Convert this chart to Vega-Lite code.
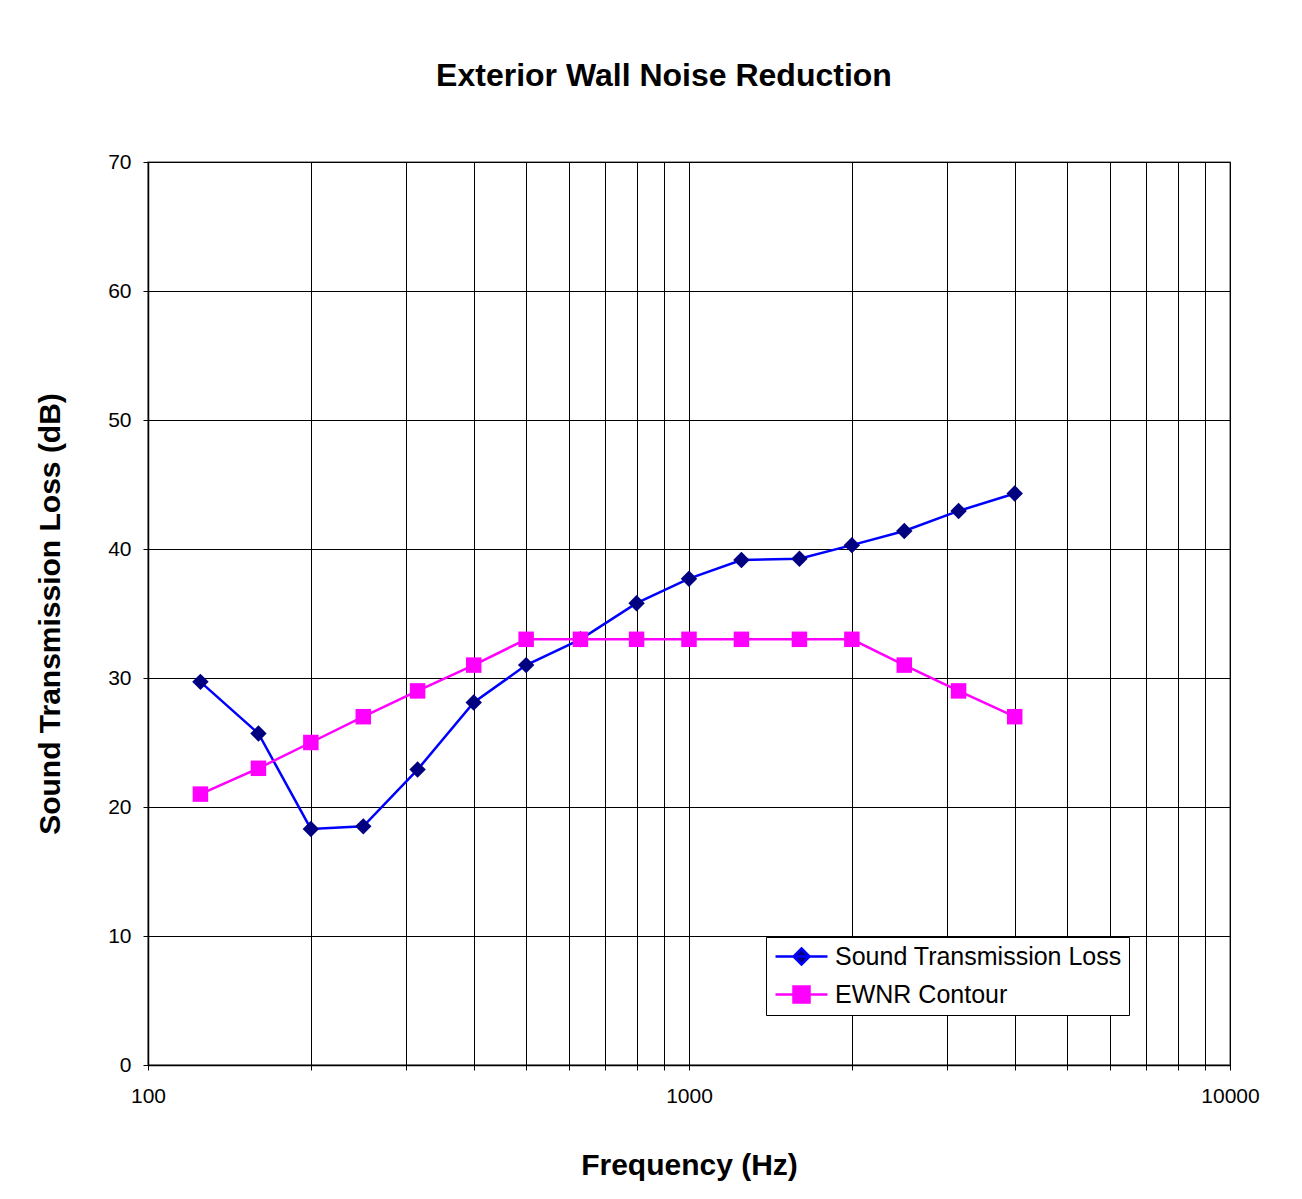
{
  "$schema": "https://vega.github.io/schema/vega-lite/v6.json",
  "width": 1082,
  "height": 903,
  "autosize": {"type": "none"},
  "padding": {"left": 148, "top": 162, "right": 72, "bottom": 134},
  "background": "white",
  "title": {
    "text": "Exterior Wall Noise Reduction",
    "fontSize": 32,
    "font": "Liberation Sans",
    "fontWeight": "bold",
    "anchor": "middle",
    "dx": -25,
    "offset": 58,
    "color": "black"
  },
  "data": {
    "values": [
      {"freq": 125, "value": 29.7, "series": "Sound Transmission Loss"},
      {"freq": 160, "value": 25.7, "series": "Sound Transmission Loss"},
      {"freq": 200, "value": 18.3, "series": "Sound Transmission Loss"},
      {"freq": 250, "value": 18.5, "series": "Sound Transmission Loss"},
      {"freq": 315, "value": 22.9, "series": "Sound Transmission Loss"},
      {"freq": 400, "value": 28.1, "series": "Sound Transmission Loss"},
      {"freq": 500, "value": 31.0, "series": "Sound Transmission Loss"},
      {"freq": 630, "value": 33.0, "series": "Sound Transmission Loss"},
      {"freq": 800, "value": 35.8, "series": "Sound Transmission Loss"},
      {"freq": 1000, "value": 37.7, "series": "Sound Transmission Loss"},
      {"freq": 1250, "value": 39.15, "series": "Sound Transmission Loss"},
      {"freq": 1600, "value": 39.25, "series": "Sound Transmission Loss"},
      {"freq": 2000, "value": 40.3, "series": "Sound Transmission Loss"},
      {"freq": 2500, "value": 41.4, "series": "Sound Transmission Loss"},
      {"freq": 3150, "value": 42.95, "series": "Sound Transmission Loss"},
      {"freq": 4000, "value": 44.3, "series": "Sound Transmission Loss"},
      {"freq": 125, "value": 21, "series": "EWNR Contour"},
      {"freq": 160, "value": 23, "series": "EWNR Contour"},
      {"freq": 200, "value": 25, "series": "EWNR Contour"},
      {"freq": 250, "value": 27, "series": "EWNR Contour"},
      {"freq": 315, "value": 29, "series": "EWNR Contour"},
      {"freq": 400, "value": 31, "series": "EWNR Contour"},
      {"freq": 500, "value": 33, "series": "EWNR Contour"},
      {"freq": 630, "value": 33, "series": "EWNR Contour"},
      {"freq": 800, "value": 33, "series": "EWNR Contour"},
      {"freq": 1000, "value": 33, "series": "EWNR Contour"},
      {"freq": 1250, "value": 33, "series": "EWNR Contour"},
      {"freq": 1600, "value": 33, "series": "EWNR Contour"},
      {"freq": 2000, "value": 33, "series": "EWNR Contour"},
      {"freq": 2500, "value": 31, "series": "EWNR Contour"},
      {"freq": 3150, "value": 29, "series": "EWNR Contour"},
      {"freq": 4000, "value": 27, "series": "EWNR Contour"}
    ]
  },
  "encoding": {
    "x": {
      "field": "freq",
      "type": "quantitative",
      "scale": {"type": "log", "domain": [100, 10000]},
      "title": "Frequency (Hz)",
      "axis": {
        "values": [100, 200, 300, 400, 500, 600, 700, 800, 900, 1000, 2000, 3000, 4000, 5000, 6000, 7000, 8000, 9000, 10000],
        "format": "d",
        "labelExpr": "(datum.value == 100 || datum.value == 1000 || datum.value == 10000) ? datum.label : ''",
        "labelPadding": 15,
        "titlePadding": 44
      }
    },
    "y": {
      "field": "value",
      "type": "quantitative",
      "scale": {"domain": [0, 70], "nice": false, "zero": true},
      "title": "Sound Transmission Loss (dB)",
      "axis": {
        "values": [0, 10, 20, 30, 40, 50, 60, 70],
        "labelPadding": 12,
        "titlePadding": 42
      }
    }
  },
  "layer": [
    {
      "transform": [{"filter": "datum.series === 'Sound Transmission Loss'"}],
      "mark": {"type": "line", "strokeWidth": 2.5},
      "encoding": {
        "color": {
          "field": "series",
          "type": "nominal",
          "scale": {"domain": ["Sound Transmission Loss", "EWNR Contour"], "range": ["#0000FF", "#FF00FF"]},
          "legend": {
            "title": null,
            "orient": "none",
            "legendX": 618,
            "legendY": 775,
            "fillColor": "white",
            "strokeColor": "black",
            "padding": 7,
            "cornerRadius": 0,
            "labelFont": "Liberation Sans",
            "labelFontSize": 25,
            "labelColor": "black",
            "labelLimit": 500,
            "symbolSize": 400,
            "symbolStrokeWidth": 2,
            "symbolOffset": 16,
            "labelOffset": 21,
            "rowPadding": 11,
            "encode": {
              "symbols": {
                "update": {
                  "shape": {"signal": "datum.value === 'Sound Transmission Loss' ? 'M-2.6,0H2.6M0,-0.8L0.8,0L0,0.8L-0.8,0Z' : 'M-2.6,0H2.6M-0.8,-0.8H0.8V0.8H-0.8Z'"},
                  "fill": {"signal": "datum.value === 'Sound Transmission Loss' ? '#000080' : '#FF00FF'"},
                  "stroke": {"signal": "datum.value === 'Sound Transmission Loss' ? '#0000FF' : '#FF00FF'"},
                  "strokeWidth": {"value": 2.5},
                  "size": {"value": 400},
                  "opacity": {"value": 1},
                  "fillOpacity": {"value": 1},
                  "strokeOpacity": {"value": 1}
                }
              }
            }
          }
        }
      }
    },
    {
      "transform": [{"filter": "datum.series === 'Sound Transmission Loss'"}],
      "mark": {"type": "point", "filled": true, "shape": "diamond", "size": 270, "color": "#000080", "opacity": 1}
    },
    {
      "transform": [{"filter": "datum.series === 'EWNR Contour'"}],
      "mark": {"type": "line", "strokeWidth": 2.5},
      "encoding": {
        "color": {
          "field": "series",
          "type": "nominal",
          "scale": {"domain": ["Sound Transmission Loss", "EWNR Contour"], "range": ["#0000FF", "#FF00FF"]}
        }
      }
    },
    {
      "transform": [{"filter": "datum.series === 'EWNR Contour'"}],
      "mark": {"type": "point", "filled": true, "shape": "square", "size": 240, "color": "#FF00FF", "opacity": 1}
    }
  ],
  "config": {
    "view": {"stroke": "#808080", "strokeWidth": 1.5},
    "axis": {
      "grid": true,
      "gridColor": "black",
      "gridOpacity": 1,
      "gridWidth": 1,
      "domainColor": "black",
      "domainWidth": 1.5,
      "tickColor": "black",
      "tickSize": 5,
      "tickWidth": 1,
      "labelFont": "Liberation Sans",
      "labelFontSize": 21,
      "labelColor": "black",
      "labelFlush": false,
      "labelOverlap": false,
      "titleFont": "Liberation Sans",
      "titleFontSize": 30,
      "titleFontWeight": "bold",
      "titleColor": "black"
    }
  }
}
